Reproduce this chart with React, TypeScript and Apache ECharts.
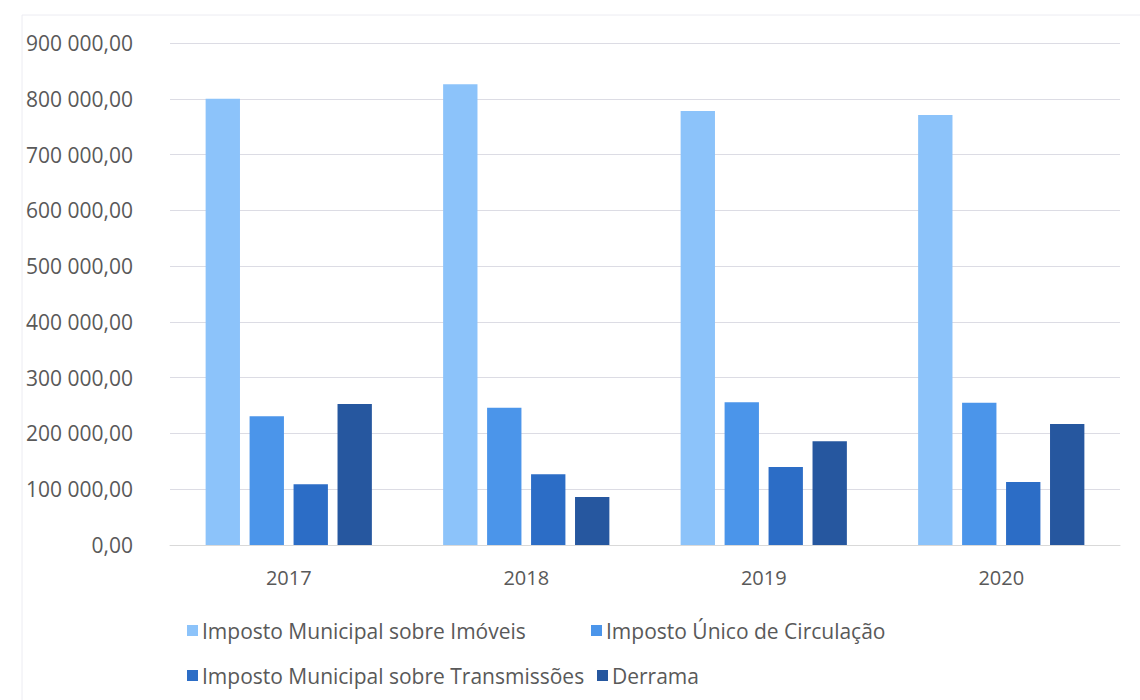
import React, { useEffect, useRef } from "react";
import * as echarts from "echarts";

const years = ["2017", "2018", "2019", "2020"];
const imi = [800000, 826000, 778000, 771000];
const iuc = [231000, 246000, 256000, 255000];
const imt = [109000, 127000, 140000, 113000];
const derrama = [253000, 86000, 186000, 217000];
const seriesNames = [
  "Imposto Municipal sobre Imóveis",
  "Imposto Único de Circulação",
  "Imposto Municipal sobre Transmissões",
  "Derrama",
];
const colors = ["#8CC3FA", "#4B95EA", "#2C6DC6", "#26579F"];

const FONT = "Open Sans";
const TXT = "#595959";

function fmt(v: number): string {
  const s = Math.round(v).toString().replace(/\B(?=(\d{3})+(?!\d))/g, " ");
  return s + ",00";
}

export default function App() {
  const ref = useRef<HTMLDivElement>(null);
  useEffect(() => {
    if (!ref.current) return;
    const chart = echarts.init(ref.current, undefined, { renderer: "svg" });
    const data = [imi, iuc, imt, derrama];
    const legendPos = [
      { left: 182, top: 615 },
      { left: 586, top: 615 },
      { left: 182, top: 660 },
      { left: 592, top: 660 },
    ];
    chart.setOption({
      animation: false,
      backgroundColor: "#ffffff",
      textStyle: { fontFamily: FONT },
      grid: { left: 170, right: 20, top: 43, bottom: 155, containLabel: false },
      legend: seriesNames.map((n, i) => ({
        data: [n],
        left: legendPos[i].left,
        top: legendPos[i].top,
        icon: "rect",
        itemWidth: 11,
        itemHeight: 11,
        itemGap: 4,
        textStyle: { color: TXT, fontSize: 21, fontFamily: FONT, padding: [0, 0, 0, -1] },
      })),
      xAxis: {
        type: "category",
        data: years,
        axisLine: { lineStyle: { color: "#d9d9d9" } },
        axisTick: { show: false },
        axisLabel: { color: TXT, fontSize: 20, margin: 22, fontFamily: FONT },
      },
      yAxis: {
        type: "value",
        min: 0,
        max: 900000,
        interval: 100000,
        axisLine: { show: false },
        axisTick: { show: false },
        splitLine: { lineStyle: { color: "#dcdce4" } },
        axisLabel: { color: TXT, fontSize: 21, margin: 37, fontFamily: FONT, formatter: fmt },
      },
      graphic: [
        {
          type: "rect",
          shape: { x: 22, y: 15, width: 1200, height: 800 },
          style: { fill: "none", stroke: "#ececf2", lineWidth: 1 },
          silent: true,
          z: -1,
        },
      ],
      series: data.map((d, i) => ({
        name: seriesNames[i],
        type: "bar",
        data: d,
        itemStyle: { color: colors[i] },
        barGap: "28%",
        barCategoryGap: "30%",
      })),
    });
    return () => chart.dispose();
  }, []);
  return (
    <div
      ref={ref}
      style={{ position: "fixed", left: 0, top: 0, width: 1140, height: 700 }}
    />
  );
}
